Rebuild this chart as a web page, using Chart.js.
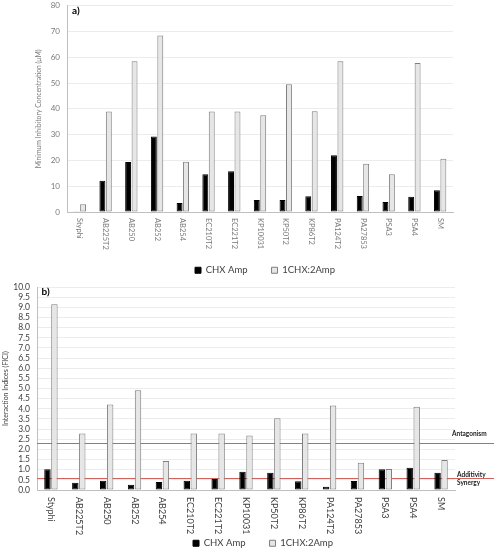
<!DOCTYPE html>
<html>
<head>
<meta charset="utf-8">
<script src="https://cdn.jsdelivr.net/npm/chart.js@4.4.0/dist/chart.umd.min.js"></script>
<style>
    html, body { margin: 0; padding: 0; background: #fff; overflow: hidden; }
    #page { position: relative; width: 494px; height: 550px; overflow: hidden; }
    canvas { position: absolute; left: 0; display: block; }
    #micChart { top: -6px; }
    #ficiChart { top: 275px; }
</style>
</head>
<body>
<div id="page">
    <canvas id="micChart" width="494" height="291"></canvas>
    <canvas id="ficiChart" width="494" height="283"></canvas>
</div>
<script>
// Strains tested (same order in both panels)
const strains = ['Styphi', 'AB225T2', 'AB250', 'AB252', 'AB254', 'EC210T2', 'EC221T2',
    'KP10031', 'KP50T2', 'KP86T2', 'PA124T2', 'PA27853', 'PSA3', 'PSA4', 'SM'];
const seriesNames = ['CHX Amp', '1CHX:2Amp'];

// a) MIC values (uM)
const micChxAmp = [0.3, 12.1, 19.4, 29.3, 3.5, 14.6, 15.8, 4.7, 4.7, 6.1, 22.0, 6.2, 3.9, 5.9, 8.4];
const micMix = [3.0, 39.0, 58.5, 68.5, 19.5, 39.0, 39.0, 37.5, 49.6, 39.1, 58.5, 18.7, 14.6, 57.8, 20.7];
const micMax = 80;
const micStep = 10;

// b) FICI values
const ficiChxAmp = [1.02, 0.36, 0.46, 0.26, 0.39, 0.46, 0.54, 0.90, 0.85, 0.43, 0.16, 0.44, 1.02, 1.10, 0.85];
const ficiMix = [9.15, 2.79, 4.21, 4.92, 1.43, 2.79, 2.79, 2.69, 3.54, 2.79, 4.16, 1.34, 1.03, 4.10, 1.48];
const ficiMax = 10;
const ficiStep = 0.5;

// interpretation thresholds drawn as red lines
const antagonismLevel = 2.33;
const synergyLevel = 0.57;

const FONT = 'Lato, "Open Sans", sans-serif';

// x labels drawn rotated clockwise (read top to bottom)
const downLabels = {
    id: 'downLabels',
    afterDraw(chart, args, opts) {
        const x = chart.scales.x;
        const ctx = chart.ctx;
        ctx.save();
        ctx.font = opts.size + 'px ' + FONT;
        ctx.fillStyle = opts.color;
        ctx.textAlign = 'left';
        ctx.textBaseline = 'middle';
        chart.data.labels.forEach((lab, i) => {
            ctx.save();
            ctx.translate(x.getPixelForValue(i), x.top + opts.offset);
            ctx.rotate(Math.PI / 2);
            ctx.fillText(lab, 0, 0);
            ctx.restore();
        });
        ctx.restore();
    }
};

// panel letter in the top-left corner of the plot
const panelTag = {
    id: 'panelTag',
    afterDraw(chart, args, opts) {
        const ctx = chart.ctx;
        const area = chart.chartArea;
        ctx.save();
        ctx.font = 'bold 10px ' + FONT;
        ctx.fillStyle = '#000';
        ctx.textAlign = 'left';
        ctx.textBaseline = 'middle';
        ctx.fillText(opts.text, area.left + opts.dx, area.top + opts.dy);
        ctx.restore();
    }
};

// threshold lines (behind the bars) with their captions
const thresholds = {
    id: 'thresholds',
    beforeDatasetsDraw(chart) {
        const ctx = chart.ctx;
        const y = chart.scales.y;
        const left = chart.chartArea.left;
        ctx.save();
        ctx.strokeStyle = '#d0615d';
        ctx.lineWidth = 1;
        [antagonismLevel, synergyLevel].forEach(v => {
            const py = Math.round(y.getPixelForValue(v)) + 0.5;
            ctx.beginPath();
            ctx.moveTo(left, py);
            ctx.lineTo(chart.width, py);
            ctx.stroke();
        });
        ctx.restore();
    },
    afterDraw(chart) {
        const ctx = chart.ctx;
        const y = chart.scales.y;
        ctx.save();
        ctx.font = 'bold 6.5px ' + FONT;
        ctx.fillStyle = '#222';
        ctx.textBaseline = 'middle';
        const a = y.getPixelForValue(antagonismLevel);
        const s = y.getPixelForValue(synergyLevel);
        ctx.fillText('Antagonism', 452, a - 8.5);
        ctx.fillText('Additivity', 457, s - 4);
        ctx.fillText('Synergy', 457, s + 4.5);
        ctx.restore();
    }
};

function makeBarChart(id, chx, mix, cfg) {
    const ctx = document.getElementById(id).getContext('2d');
    return new Chart(ctx, {
        type: 'bar',
        data: {
            labels: strains,
            datasets: [
                {
                    label: seriesNames[0],
                    data: chx,
                    backgroundColor: '#000000',
                    borderColor: '#000000',
                    borderWidth: 1,
                    borderSkipped: false,
                    categoryPercentage: 0.5,
                    barPercentage: 0.92
                },
                {
                    label: seriesNames[1],
                    data: mix,
                    backgroundColor: '#e7e6e6',
                    borderColor: '#7f7f7f',
                    borderWidth: 1,
                    borderSkipped: false,
                    categoryPercentage: 0.5,
                    barPercentage: 0.92
                }
            ]
        },
        options: {
            responsive: false,
            animation: false,
            layout: {
                padding: { top: 0, left: cfg.padLeft, right: cfg.padRight, bottom: 0 }
            },
            plugins: {
                tooltip: { enabled: false },
                legend: {
                    display: true,
                    position: 'bottom',
                    labels: {
                        boxWidth: 6,
                        boxHeight: 6,
                        padding: 24,
                        color: '#404040',
                        font: { family: FONT, size: 9.5 }
                    }
                },
                downLabels: cfg.labels,
                panelTag: cfg.tag
            },
            scales: {
                x: {
                    grid: { display: false },
                    border: { color: '#bfbfbf' },
                    ticks: { display: false },
                    afterFit(s) { s.height = cfg.xHeight; }
                },
                y: {
                    min: 0,
                    max: cfg.max,
                    grid: { color: '#ececec', drawTicks: false },
                    border: { color: '#bfbfbf' },
                    ticks: {
                        stepSize: cfg.step,
                        autoSkip: false,
                        padding: 7,
                        color: cfg.tickColor,
                        font: { family: FONT, size: cfg.tickSize },
                        callback: cfg.tickFormat
                    },
                    title: {
                        display: true,
                        text: cfg.title,
                        color: cfg.tickColor,
                        padding: { top: cfg.titlePad, bottom: 0 },
                        font: { family: FONT, size: cfg.titleSize }
                    },
                    afterFit(s) { s.width = cfg.yWidth; }
                },
                yRight: {
                    position: 'right',
                    display: true,
                    grid: { display: false },
                    border: { display: false },
                    ticks: { display: false },
                    afterFit(s) { s.width = cfg.rightWidth; }
                }
            }
        },
        plugins: [downLabels, panelTag, ...(cfg.extra || [])]
    });
}

makeBarChart('micChart', micChxAmp, micMix, {
    padLeft: 16,
    padRight: -20,
    max: micMax,
    step: micStep,
    tickColor: '#7a7a7a',
    tickSize: 8,
    tickFormat: v => String(v),
    title: 'Minimum Inhibitory Concentration (μM)',
    titlePad: 18.9,
    titleSize: 6.8,
    yWidth: 51,
    rightWidth: 61,
    xHeight: 29.5,
    labels: { size: 7.5, color: '#7a7a7a', offset: 6 },
    tag: { text: 'a)', dx: 5, dy: 4.5 }
});

makeBarChart('ficiChart', ficiChxAmp, ficiMix, {
    padLeft: 8,
    padRight: -24,
    max: ficiMax,
    step: ficiStep,
    tickColor: '#404040',
    tickSize: 8.5,
    tickFormat: v => v.toFixed(1),
    title: 'Interaction Indices (FICI)',
    titlePad: -6.7,
    titleSize: 7,
    yWidth: 29,
    rightWidth: 63,
    xHeight: 24.5,
    labels: { size: 9, color: '#404040', offset: 7 },
    tag: { text: 'b)', dx: 4.5, dy: 5 },
    extra: [thresholds]
});
</script>
</body>
</html>
